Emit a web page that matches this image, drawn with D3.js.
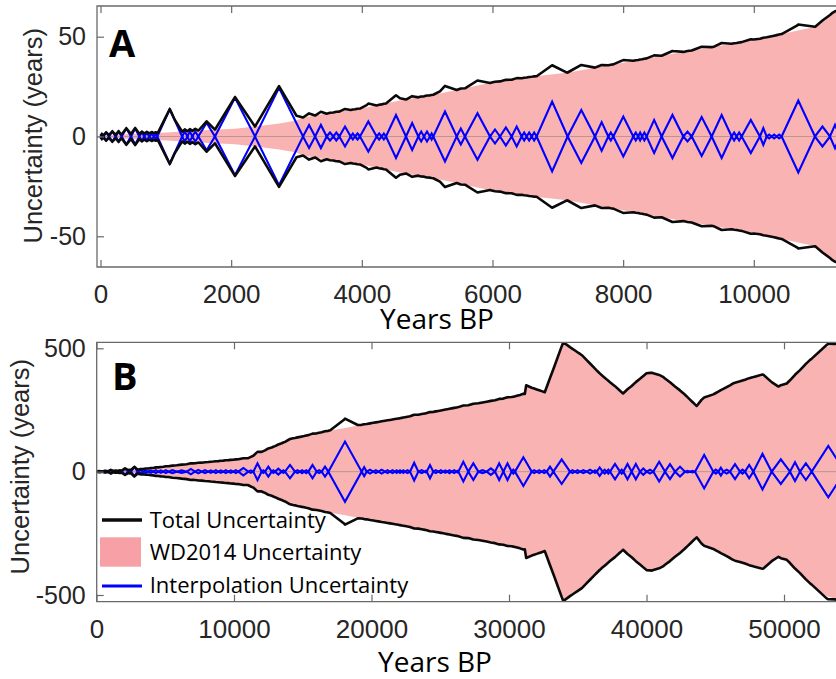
<!DOCTYPE html>
<html>
<head>
<meta charset="utf-8">
<script src="https://cdn.jsdelivr.net/npm/d3@7"></script>
<style>
  body { margin: 0; background: #fff; }
  svg { display: block; }
</style>
</head>
<body>
<svg id="fig" width="836" height="679"></svg>
<script>
// ---------- Panel A (Holocene section) ----------
// WD2014 age uncertainty (half-width, years) at selected ages (years BP)
const wdAgeA = [0, 300, 600, 880, 1140, 1500, 2058, 2365, 2737, 3000, 3100, 3564, 4074, 4584, 5196, 5988, 6620, 7140, 8000, 8760, 9400, 10000, 10660, 10940, 11210, 11500];
const wdValA = [0.4, 1.0, 1.4, 1.8, 2.2, 3.0, 3.9, 5.0, 6.5, 8.0, 9.5, 12.0, 14.5, 18.0, 21.5, 27.0, 30.0, 32.0, 37.0, 41.5, 45.0, 48.3, 53.0, 55.0, 62.0, 66.0];
// Tie points (years BP) and peak interpolation uncertainty between each pair
const tiesA = [0, 43, 130, 232, 324, 467, 594, 671, 747, 819, 870, 1250, 1330, 1406, 1497, 1752, 2365, 3100, 3285, 3462,
  3564, 3655, 3830, 3896, 3972, 4227, 4304, 4370, 4676, 4865, 4952, 5043, 5094, 5452, 5579, 5962, 6115, 6294, 6447, 6523,
  6600, 6676, 7150, 7569, 7773, 7849, 8156, 8230, 8290, 8360, 8589, 8921, 9049, 9355, 9661, 9737, 9814, 10094, 10197, 10273,
  10350, 10426, 10936, 11166, 11320, 11500];
const peaksA = [1.2, 2, 2.5, 2.5, 4, 4, 2, 1.8, 1.5, 1.2, 13.6, 2.5, 2.5, 2.5, 6.9, 19.4, 24.4, 5.8, 5.8, 2,
  2, 5, 1.5, 1.5, 7.5, 1.5, 1.5, 10.8, 6.7, 2.5, 2.5, 1.5, 12.5, 4, 11.7, 3.5, 4.5, 5, 2, 2,
  2, 17.5, 13.3, 7.2, 2, 10, 2, 2, 2, 8.3, 10.8, 2.5, 9.7, 10.8, 2, 2, 8.3, 4.2, 1, 1,
  1, 18, 5, 5.8, 4];
const xTicksA = [0, 2000, 4000, 6000, 8000, 10000];
const yTicksA = [-50, 0, 50];

// ---------- Panel B (full record) ----------
const wdAgeB = [0, 1000, 3000, 7000, 11000, 12000, 14300, 17000, 18000, 19000, 22000, 30800, 31150, 31250, 32600, 33950, 35300, 36600, 38300, 40000,
  40400, 41200, 42700, 43650, 44000, 46300, 47800, 48500, 49600, 50200, 51900, 53100, 53700, 54500];
const wdValB = [0, 2, 8, 33, 54, 80, 135, 167, 176, 187, 216, 309, 311, 348, 322, 523, 472, 398, 317, 399,
  401, 384, 317, 266, 287, 357, 384, 387, 343, 357, 453, 505, 514, 525];
const tiesB = [0, 400, 858, 1222, 1500, 1833, 2315, 2509, 2994, 3406, 3770, 4133, 4497, 4861, 5224, 5830, 6558, 7164, 7649, 8133,
  8497, 8861, 9224, 9588, 9952, 10315, 11042, 11406, 12012, 12255, 12740, 12982, 13467, 13709, 14436, 14800, 15100, 15406, 16012, 16376,
  16861, 19285, 19651, 20133, 20497, 20982, 21345, 21709, 21952, 22194, 22436, 22800, 23406, 23891, 24012, 24497, 24861, 25224, 25515, 25830,
  26194, 26315, 27042, 27770, 28376, 28982, 29588, 30194, 30436, 31650, 32015, 32376, 32742, 33224, 34436, 34800, 35164, 35651, 36135, 36376,
  36812, 37103, 37345, 38073, 38315, 38921, 39527, 40012, 40497, 41345, 42073, 42800, 43164, 43527, 44861, 45224, 45588, 46073, 46800, 47164,
  47770, 49103, 50436, 51164, 52015, 54430];
const peaksB = [2, 3, 7, 3, 3, 12, 4, 18, 6, 5, 5, 6, 5, 6, 6, 5, 11, 7, 6, 5,
  6, 5, 6, 5, 6, 15, 5, 34, 5, 20, 5, 12, 5, 27, 6, 6, 6, 27, 6, 20,
  122, 18, 8, 6, 8, 6, 6, 5, 5, 5, 6, 36, 6, 3, 27, 6, 6, 5, 6, 6,
  3, 40, 34, 6, 13, 34, 34, 8, 58, 6, 6, 6, 20, 50, 6, 6, 6, 8, 5, 17,
  8, 8, 31, 8, 31, 31, 13, 8, 40, 30, 20, 3, 3, 68, 8, 16, 8, 30, 8, 27,
  72, 50, 38, 34, 104];
const xTicksB = [0, 10000, 20000, 30000, 40000, 50000];
const yTicksB = [-500, 0, 500];

const legendLabels = ["Total Uncertainty", "WD2014 Uncertainty", "Interpolation Uncertainty"];

// ---------- styling ----------
const COL_FILL = "#f9b3b3";
const COL_FILL_KEY = "#f7a1a6";
const COL_BLUE = "#0000ff";
const COL_BLACK = "#0a0a0a";
const COL_AXIS = "#6a6a6a";
const COL_TICKTXT = "#262626";
const TICK_FONT = "'Liberation Sans', Arial, Helvetica, sans-serif";
const LABEL_FONT = "'Open Sans', 'Noto Sans', sans-serif";
const plainNum = d => String(d);   // hyphen-minus, no grouping

const svg = d3.select("#fig");

// interpolation uncertainty as a triangle between consecutive tie points
function interpKnots(ties, peaks) {
  const pts = [];
  for (let i = 0; i < peaks.length && i + 1 < ties.length; i++) {
    if (i === 0) pts.push([ties[0], 0]);
    pts.push([(ties[i] + ties[i + 1]) / 2, peaks[i]]);
    pts.push([ties[i + 1], 0]);
  }
  return pts;
}

// total = WD2014 and interpolation uncertainty added in quadrature
function totalKnots(wdAge, wdVal, ipPts) {
  const wdAt = d3.scaleLinear().domain(wdAge).range(wdVal).clamp(true);
  const ipAt = d3.scaleLinear().domain(ipPts.map(d => d[0])).range(ipPts.map(d => d[1])).clamp(true);
  const ages = Array.from(new Set([...wdAge, ...ipPts.map(d => d[0])])).sort(d3.ascending);
  return ages.map(a => [a, Math.hypot(wdAt(a), ipAt(a))]);
}

const panels = [
  {
    key: "A", wdAge: wdAgeA, wdVal: wdValA, ties: tiesA, peaks: peaksA,
    xTicks: xTicksA, yTicks: yTicksA,
    box: { left: 97, top: 6, right: 836, bottom: 267 },
    x: d3.scaleLinear().domain([0, 10000]).range([100.5, 753.8]),
    y: d3.scaleLinear().domain([-50, 50]).range([236.3, 36.7]),
    ylabelPos: [42, 135.8], xlabelPos: [437, 329], letterPos: [109, 57],
    blackWidth: 2.6
  },
  {
    key: "B", wdAge: wdAgeB, wdVal: wdValB, ties: tiesB, peaks: peaksB,
    xTicks: xTicksB, yTicks: yTicksB,
    box: { left: 96.7, top: 342.3, right: 836, bottom: 601.7 },
    x: d3.scaleLinear().domain([0, 50000]).range([96.5, 784]),
    y: d3.scaleLinear().domain([-500, 500]).range([595, 348.3]),
    ylabelPos: [28.5, 466.7], xlabelPos: [435, 672], letterPos: [112, 390],
    blackWidth: 2.6
  }
];

const defs = svg.append("defs");

panels.forEach(p => {
  const { x, y, box } = p;
  const g = svg.append("g").attr("class", "panel-" + p.key);

  defs.append("clipPath").attr("id", "clip-" + p.key)
    .append("rect")
    .attr("x", box.left).attr("y", box.top)
    .attr("width", box.right - box.left).attr("height", box.bottom - box.top);

  const plot = g.append("g").attr("clip-path", `url(#clip-${p.key})`);

  // WD2014 uncertainty band
  const wdData = p.wdAge.map((a, i) => [a, p.wdVal[i]]);
  plot.append("path")
    .datum(wdData)
    .attr("fill", COL_FILL)
    .attr("d", d3.area().x(d => x(d[0])).y0(d => y(-d[1])).y1(d => y(d[1])));

  // zero line
  plot.append("line")
    .attr("x1", box.left).attr("x2", box.right)
    .attr("y1", y(0)).attr("y2", y(0))
    .attr("stroke", "rgba(110,110,110,0.45)").attr("stroke-width", 1);

  // interpolation uncertainty (blue diamonds)
  const ip = interpKnots(p.ties, p.peaks);
  const line = d3.line().x(d => x(d[0])).y(d => y(d[1]));
  [1, -1].forEach(s => {
    plot.append("path")
      .datum(ip.map(d => [d[0], s * d[1]]))
      .attr("fill", "none").attr("stroke", COL_BLUE)
      .attr("stroke-width", 2.1).attr("stroke-linejoin", "miter")
      .attr("d", line);
  });

  // total uncertainty envelope
  const tot = totalKnots(p.wdAge, p.wdVal, ip);
  [1, -1].forEach(s => {
    plot.append("path")
      .datum(tot.map(d => [d[0], s * d[1]]))
      .attr("fill", "none").attr("stroke", COL_BLACK)
      .attr("stroke-width", p.blackWidth).attr("stroke-linejoin", "round")
      .attr("d", line);
  });

  // axes box (left, top, bottom)
  const ax = g.append("g").attr("stroke", COL_AXIS).attr("stroke-width", 1.3).attr("fill", "none");
  ax.append("path").attr("d",
    `M${box.right},${box.top}H${box.left}V${box.bottom}H${box.right}`);

  // bottom ticks with labels
  const xb = g.append("g").attr("transform", `translate(0,${box.bottom})`)
    .call(d3.axisBottom(x).tickValues(p.xTicks).tickSize(-7).tickSizeOuter(0).tickPadding(18).tickFormat(plainNum));
  xb.select(".domain").remove();
  xb.selectAll(".tick line").attr("stroke", COL_AXIS).attr("stroke-width", 1.2);
  xb.selectAll(".tick text").attr("fill", COL_TICKTXT)
    .style("font-family", TICK_FONT).style("font-size", "26px");

  // top ticks
  const xt = g.append("g").attr("transform", `translate(0,${box.top})`)
    .call(d3.axisTop(x).tickValues(p.xTicks).tickSize(-7).tickSizeOuter(0).tickFormat(""));
  xt.select(".domain").remove();
  xt.selectAll(".tick line").attr("stroke", COL_AXIS).attr("stroke-width", 1.2);

  // left ticks with labels
  const yl = g.append("g").attr("transform", `translate(${box.left},0)`)
    .call(d3.axisLeft(y).tickValues(p.yTicks).tickSize(-7).tickSizeOuter(0).tickPadding(11).tickFormat(plainNum));
  yl.select(".domain").remove();
  yl.selectAll(".tick line").attr("stroke", COL_AXIS).attr("stroke-width", 1.2);
  yl.selectAll(".tick text").attr("fill", COL_TICKTXT)
    .style("font-family", TICK_FONT).style("font-size", "25px");

  // axis titles
  g.append("text")
    .attr("transform", `translate(${p.ylabelPos[0]},${p.ylabelPos[1]}) rotate(-90)`)
    .attr("text-anchor", "middle").attr("fill", COL_TICKTXT)
    .style("font-family", TICK_FONT).style("font-size", "25.5px")
    .text("Uncertainty (years)");

  g.append("text")
    .attr("x", p.xlabelPos[0]).attr("y", p.xlabelPos[1])
    .attr("text-anchor", "middle").attr("fill", "#000")
    .style("font-family", LABEL_FONT).style("font-size", "28px")
    .text("Years BP");

  // panel letter
  g.append("text")
    .attr("x", p.letterPos[0]).attr("y", p.letterPos[1])
    .attr("fill", "#000")
    .style("font-family", LABEL_FONT).style("font-weight", "700").style("font-size", "38px")
    .text(p.key);
});

// ---------- legend (inside panel B) ----------
const leg = svg.append("g").attr("class", "legend");
leg.append("line").attr("x1", 102).attr("x2", 142).attr("y1", 520).attr("y2", 520)
  .attr("stroke", COL_BLACK).attr("stroke-width", 3.5);
leg.append("rect").attr("x", 100).attr("y", 537.3).attr("width", 41).attr("height", 29.4)
  .attr("fill", COL_FILL_KEY);
leg.append("line").attr("x1", 102).attr("x2", 142).attr("y1", 586).attr("y2", 586)
  .attr("stroke", COL_BLUE).attr("stroke-width", 3);
const legBase = [528.3, 560, 593.3];
leg.selectAll("text.lab").data(legendLabels).join("text")
  .attr("class", "lab")
  .attr("x", 149.7).attr("y", (d, i) => legBase[i])
  .attr("fill", "#000")
  .style("font-family", LABEL_FONT).style("font-size", "22px")
  .text(d => d);
</script>
</body>
</html>
